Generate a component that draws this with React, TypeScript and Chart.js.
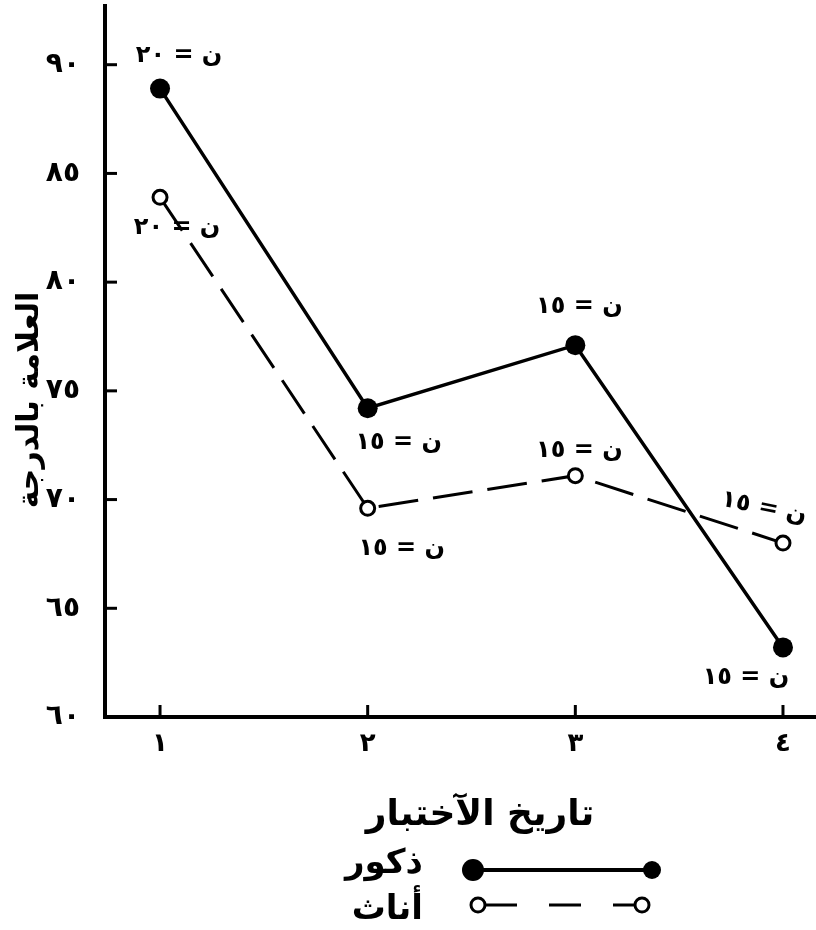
import React, { useEffect, useRef } from 'react';
import { Chart, registerables } from 'chart.js';

Chart.register(...registerables);

// ---- data ----
const testNumbers = [1, 2, 3, 4];
const testLabels = ['١', '٢', '٣', '٤'];
const maleScores = [88.9, 74.2, 77.1, 63.2];
const femaleScores = [83.9, 69.6, 71.1, 68.0];
const maleN = ['ن = ٢٠', 'ن = ١٥', 'ن = ١٥', 'ن = ١٥'];
const femaleN = ['ن = ٢٠', 'ن = ١٥', 'ن = ١٥', 'ن = ١٥'];
const yTickValues = [60, 65, 70, 75, 80, 85, 90];
const yTickLabels = ['٦٠', '٦٥', '٧٠', '٧٥', '٨٠', '٨٥', '٩٠'];
const seriesNames = ['ذكور', 'أناث'];
const xTitle = 'تاريخ الآختبار';
const yTitle = 'العلامة بالدرجة';

// ---- styles ----
const FONT = '"DejaVu Sans", sans-serif';
const maleLabelOffsets = [[19, -33, 0], [31, 35, 0], [4, -38, 0], [-37, 30, 0]];
const femaleLabelOffsets = [[17, 30, 0], [34, 40, 0], [4, -25, 0], [-19, -35, 0.2]];

const zeroPad = (s: any) => {
  s.paddingTop = 0;
  s.paddingBottom = 0;
  s.paddingLeft = 0;
  s.paddingRight = 0;
};

const decorPlugin = {
  id: 'decor',
  afterDraw(chart: any) {
    const ctx = chart.ctx as CanvasRenderingContext2D;
    const xs = chart.scales.x;
    const ys = chart.scales.y;
    const area = chart.chartArea;
    ctx.save();
    ctx.strokeStyle = '#000';
    ctx.fillStyle = '#000';
    ctx.lineWidth = 3;
    ctx.setLineDash([]);
    // inward tick marks
    yTickValues.forEach((v) => {
      if (v === ys.min) return;
      const py = ys.getPixelForValue(v);
      ctx.beginPath();
      ctx.moveTo(area.left, py);
      ctx.lineTo(area.left + 12, py);
      ctx.stroke();
    });
    testNumbers.forEach((v) => {
      const px = xs.getPixelForValue(v);
      ctx.beginPath();
      ctx.moveTo(px, area.bottom);
      ctx.lineTo(px, area.bottom - 12);
      ctx.stroke();
    });

    // n labels
    ctx.font = `bold 24px ${FONT}`;
    ctx.textAlign = 'center';
    ctx.textBaseline = 'middle';
    const drawLabels = (vals: number[], labels: string[], offs: number[][]) => {
      vals.forEach((v, i) => {
        const px = xs.getPixelForValue(testNumbers[i]) + offs[i][0];
        const py = ys.getPixelForValue(v) + offs[i][1];
        ctx.save();
        ctx.translate(px, py);
        ctx.rotate(offs[i][2]);
        ctx.fillText(labels[i], 0, 0);
        ctx.restore();
      });
    };
    drawLabels(maleScores, maleN, maleLabelOffsets);
    drawLabels(femaleScores, femaleN, femaleLabelOffsets);

    // y title
    ctx.save();
    ctx.translate(30, 400);
    ctx.rotate(-Math.PI / 2);
    ctx.font = `bold 30px ${FONT}`;
    ctx.fillText(yTitle, 0, 0);
    ctx.restore();

    // x title
    ctx.font = `bold 36px ${FONT}`;
    ctx.textBaseline = 'alphabetic';
    ctx.fillText(xTitle, 480, 825);

    // legend
    ctx.font = `bold 34px ${FONT}`;
    ctx.textAlign = 'right';
    ctx.fillText(seriesNames[0], 423, 873);
    ctx.fillText(seriesNames[1], 423, 919);

    ctx.lineWidth = 4;
    ctx.beginPath();
    ctx.moveTo(470, 870);
    ctx.lineTo(652, 870);
    ctx.stroke();
    ctx.beginPath();
    ctx.arc(473, 870, 11, 0, Math.PI * 2);
    ctx.fill();
    ctx.beginPath();
    ctx.arc(652, 870, 9, 0, Math.PI * 2);
    ctx.fill();

    ctx.lineWidth = 3;
    ctx.setLineDash([32, 32]);
    ctx.beginPath();
    ctx.moveTo(485, 905);
    ctx.lineTo(636, 905);
    ctx.stroke();
    ctx.setLineDash([]);
    [478, 642].forEach((cx) => {
      ctx.beginPath();
      ctx.arc(cx, 905, 7, 0, Math.PI * 2);
      ctx.fillStyle = '#fff';
      ctx.fill();
      ctx.stroke();
    });
    ctx.restore();
  },
};

export default function App() {
  const ref = useRef<HTMLCanvasElement | null>(null);
  useEffect(() => {
    if (!ref.current) return;
    const chart = new Chart(ref.current, {
      type: 'line',
      data: {
        datasets: [
          {
            label: seriesNames[0],
            data: testNumbers.map((x, i) => ({ x, y: maleScores[i] })),
            borderColor: '#000',
            borderWidth: 3.5,
            pointRadius: 10,
            pointBackgroundColor: '#000',
            pointBorderColor: '#000',
            pointBorderWidth: 0,
            clip: false as any,
          },
          {
            label: seriesNames[1],
            data: testNumbers.map((x, i) => ({ x, y: femaleScores[i] })),
            borderColor: '#000',
            borderWidth: 3,
            borderDash: [40, 15],
            pointRadius: 7,
            pointBackgroundColor: '#fff',
            pointBorderColor: '#000',
            pointBorderWidth: 3,
            clip: false as any,
          },
        ],
      },
      options: {
        responsive: false,
        animation: false,
        layout: { autoPadding: false, padding: { top: 6, left: 0, right: 0, bottom: 0 } },
        plugins: { legend: { display: false }, tooltip: { enabled: false } },
        scales: {
          x: {
            type: 'linear',
            min: 0.735,
            max: 4.159,
            afterBuildTicks: (s: any) => {
              s.ticks = testNumbers.map((v) => ({ value: v }));
            },
            afterFit: (s: any) => {
              s.height = 213;
              zeroPad(s);
            },
            ticks: {
              callback: (_v: any, i: number) => testLabels[i],
              font: { family: FONT, size: 26, weight: 'bold' },
              color: '#000',
              padding: 12,
              maxRotation: 0,
              autoSkip: false,
            },
            grid: { display: false, drawTicks: false },
            border: { display: true, width: 4, color: '#000' },
          },
          y: {
            type: 'linear',
            min: 60,
            max: 92.7,
            afterBuildTicks: (s: any) => {
              s.ticks = yTickValues.map((v) => ({ value: v }));
            },
            afterFit: (s: any) => {
              s.width = 105;
              zeroPad(s);
            },
            ticks: {
              callback: (_v: any, i: number) => yTickLabels[i],
              font: { family: FONT, size: 28, weight: 'bold' },
              color: '#000',
              padding: 25,
              autoSkip: false,
            },
            grid: { display: false, drawTicks: false },
            border: { display: true, width: 4, color: '#000' },
          },
        },
      },
      plugins: [decorPlugin],
    } as any);
    return () => chart.destroy();
  }, []);
  return (
    <div style={{ position: 'absolute', left: 0, top: 0, width: 816, height: 930, background: '#fff' }}>
      <canvas ref={ref} width={816} height={930} />
    </div>
  );
}
